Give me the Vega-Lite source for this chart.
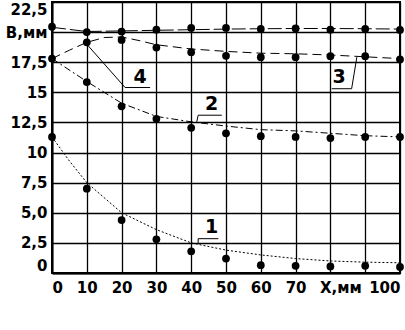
{
  "$schema": "https://vega.github.io/schema/vega-lite/v6.json",
  "autosize": {"type": "none"},
  "padding": {"left": 52, "top": 2, "right": 5, "bottom": 57},
  "width": 348,
  "height": 271,
  "background": "white",
  "config": {
    "view": {"stroke": "black", "strokeWidth": 2},
    "axis": {
      "grid": true, "gridColor": "black", "gridWidth": 1.3, "gridOpacity": 1,
      "domainColor": "black", "domainWidth": 2, "ticks": false,
      "labelFont": "DejaVu Sans", "labelFontWeight": "bold", "labelFontSize": 15,
      "labelColor": "black", "title": null
    }
  },
  "datasets": {
    "pts": [
      {"s": "A", "x": 0, "y": 20.45}, {"s": "A", "x": 10, "y": 20.0}, {"s": "A", "x": 20, "y": 20.05}, {"s": "A", "x": 30, "y": 20.2}, {"s": "A", "x": 40, "y": 20.35}, {"s": "A", "x": 50, "y": 20.35}, {"s": "A", "x": 60, "y": 20.26}, {"s": "A", "x": 70, "y": 20.3}, {"s": "A", "x": 80, "y": 20.2}, {"s": "A", "x": 90, "y": 20.26}, {"s": "A", "x": 100, "y": 20.18},
      {"s": "B", "x": 0, "y": 17.8}, {"s": "B", "x": 10, "y": 19.15}, {"s": "B", "x": 20, "y": 19.35}, {"s": "B", "x": 30, "y": 18.72}, {"s": "B", "x": 40, "y": 18.33}, {"s": "B", "x": 50, "y": 18.03}, {"s": "B", "x": 60, "y": 17.92}, {"s": "B", "x": 70, "y": 17.92}, {"s": "B", "x": 80, "y": 18.0}, {"s": "B", "x": 90, "y": 18.0}, {"s": "B", "x": 100, "y": 17.73},
      {"s": "C", "x": 10, "y": 15.85}, {"s": "C", "x": 20, "y": 13.84}, {"s": "C", "x": 30, "y": 12.8}, {"s": "C", "x": 40, "y": 12.05}, {"s": "C", "x": 50, "y": 11.6}, {"s": "C", "x": 60, "y": 11.36}, {"s": "C", "x": 70, "y": 11.3}, {"s": "C", "x": 80, "y": 11.2}, {"s": "C", "x": 90, "y": 11.3}, {"s": "C", "x": 100, "y": 11.3},
      {"s": "D", "x": 0, "y": 11.3}, {"s": "D", "x": 10, "y": 7.0}, {"s": "D", "x": 20, "y": 4.4}, {"s": "D", "x": 30, "y": 2.8}, {"s": "D", "x": 40, "y": 1.8}, {"s": "D", "x": 50, "y": 1.2}, {"s": "D", "x": 60, "y": 0.65}, {"s": "D", "x": 70, "y": 0.6}, {"s": "D", "x": 80, "y": 0.55}, {"s": "D", "x": 90, "y": 0.6}, {"s": "D", "x": 100, "y": 0.5}
    ],
    "curves": [
      {"s": "A", "x": 0, "y": 20.4}, {"s": "A", "x": 10, "y": 20.05}, {"s": "A", "x": 20, "y": 20.1}, {"s": "A", "x": 30, "y": 20.15}, {"s": "A", "x": 40, "y": 20.2}, {"s": "A", "x": 50, "y": 20.25}, {"s": "A", "x": 60, "y": 20.28}, {"s": "A", "x": 70, "y": 20.3}, {"s": "A", "x": 80, "y": 20.3}, {"s": "A", "x": 90, "y": 20.28}, {"s": "A", "x": 100, "y": 20.25},
      {"s": "B", "x": 0, "y": 17.8}, {"s": "B", "x": 5, "y": 18.5}, {"s": "B", "x": 10, "y": 19.15}, {"s": "B", "x": 15, "y": 19.55}, {"s": "B", "x": 20, "y": 19.6}, {"s": "B", "x": 25, "y": 19.3}, {"s": "B", "x": 30, "y": 18.95}, {"s": "B", "x": 40, "y": 18.6}, {"s": "B", "x": 50, "y": 18.4}, {"s": "B", "x": 60, "y": 18.25}, {"s": "B", "x": 70, "y": 18.2}, {"s": "B", "x": 80, "y": 18.1}, {"s": "B", "x": 90, "y": 17.95}, {"s": "B", "x": 100, "y": 17.8},
      {"s": "C", "x": 0, "y": 17.8}, {"s": "C", "x": 10, "y": 15.9}, {"s": "C", "x": 20, "y": 14.1}, {"s": "C", "x": 30, "y": 13.0}, {"s": "C", "x": 40, "y": 12.55}, {"s": "C", "x": 50, "y": 12.2}, {"s": "C", "x": 60, "y": 11.9}, {"s": "C", "x": 70, "y": 11.8}, {"s": "C", "x": 80, "y": 11.6}, {"s": "C", "x": 90, "y": 11.4}, {"s": "C", "x": 100, "y": 11.3},
      {"s": "D", "x": 0, "y": 11.3}, {"s": "D", "x": 5, "y": 9.3}, {"s": "D", "x": 10, "y": 7.5}, {"s": "D", "x": 20, "y": 5.0}, {"s": "D", "x": 30, "y": 3.6}, {"s": "D", "x": 40, "y": 2.5}, {"s": "D", "x": 50, "y": 1.9}, {"s": "D", "x": 60, "y": 1.5}, {"s": "D", "x": 70, "y": 1.2}, {"s": "D", "x": 80, "y": 1.0}, {"s": "D", "x": 90, "y": 0.9}, {"s": "D", "x": 100, "y": 0.85}
    ],
    "leaders": [
      {"id": "1", "o": 1, "x": 42.0, "y": 2.5}, {"id": "1", "o": 2, "x": 42.0, "y": 2.85}, {"id": "1", "o": 3, "x": 47.8, "y": 2.85},
      {"id": "2", "o": 1, "x": 41.6, "y": 12.55}, {"id": "2", "o": 2, "x": 42.0, "y": 13.1}, {"id": "2", "o": 3, "x": 48.8, "y": 13.1},
      {"id": "3", "o": 1, "x": 80.4, "y": 15.3}, {"id": "3", "o": 2, "x": 86.1, "y": 15.3}, {"id": "3", "o": 3, "x": 87.6, "y": 17.92},
      {"id": "4", "o": 1, "x": 9.5, "y": 19.16}, {"id": "4", "o": 2, "x": 21.0, "y": 15.4}, {"id": "4", "o": 3, "x": 28.2, "y": 15.4}
    ],
    "labels": [
      {"t": "1", "x": 45.9, "y": 3.84},
      {"t": "2", "x": 45.9, "y": 14.07},
      {"t": "3", "x": 82.5, "y": 16.3},
      {"t": "4", "x": 25.3, "y": 16.26}
    ]
  },
  "encoding": {
    "x": {"field": "x", "type": "quantitative",
      "scale": {"domain": [0, 100], "nice": false, "zero": false},
      "axis": {"values": [0, 10, 20, 30, 40, 50, 60, 70, 80, 90, 100], "labelPadding": 7,
        "labelExpr": "datum.value == 80 ? 'X,мм' : datum.value == 90 ? '' : format(datum.value, 'd')",
        "labelOffset": {"condition": {"test": "datum.value == 80", "value": 10}, "value": 0}}},
    "y": {"field": "y", "type": "quantitative",
      "scale": {"domain": [0, 22.5], "nice": false, "zero": false},
      "axis": {"values": [0, 2.5, 5, 7.5, 10, 12.5, 15, 17.5, 20, 22.5], "labelPadding": 5, "labelFlush": true,
        "labelExpr": "datum.value == 20 ? 'B,мм' : datum.value == 5 ? '5,0' : replace(format(datum.value, '.1~f'), '.', ',')"}}
  },
  "layer": [
    {
      "data": {"name": "curves"},
      "mark": {"type": "line", "color": "black", "strokeWidth": 1},
      "encoding": {
        "detail": {"field": "s"},
        "strokeDash": {"field": "s", "type": "nominal", "legend": null,
          "scale": {"domain": ["A", "B", "C", "D"], "range": [[14, 4], [9, 5], [7, 3, 2, 3], [2, 2]]}}
      }
    },
    {
      "data": {"name": "leaders"},
      "mark": {"type": "line", "color": "black", "strokeWidth": 1},
      "encoding": {
        "detail": {"field": "id"},
        "order": {"field": "o", "type": "quantitative"}
      }
    },
    {
      "data": {"name": "pts"},
      "mark": {"type": "circle", "color": "black", "opacity": 1, "size": 60}
    },
    {
      "data": {"name": "labels"},
      "mark": {"type": "text", "font": "DejaVu Sans", "fontWeight": "bold", "fontSize": 19, "color": "black", "baseline": "middle", "align": "center"},
      "encoding": {"text": {"field": "t"}}
    }
  ]
}
